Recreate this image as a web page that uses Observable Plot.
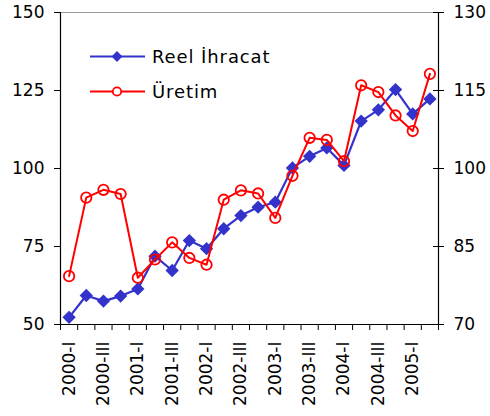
<!DOCTYPE html>
<html>
<head>
<meta charset="utf-8">
<script src="https://cdn.jsdelivr.net/npm/d3@7"></script>
<script src="https://cdn.jsdelivr.net/npm/@observablehq/plot@0.6"></script>
<style>
  body { margin: 0; background: #fff; }
  #chart { width: 490px; height: 416px; }
</style>
</head>
<body>
<div id="chart"></div>
<script>
// Quarterly periods, 2000-I .. 2005-II
const quarters = [
  "2000-I", "2000-II", "2000-III", "2000-IV",
  "2001-I", "2001-II", "2001-III", "2001-IV",
  "2002-I", "2002-II", "2002-III", "2002-IV",
  "2003-I", "2003-II", "2003-III", "2003-IV",
  "2004-I", "2004-II", "2004-III", "2004-IV",
  "2005-I", "2005-II"
];

// Real exports index (left axis)
const reelIhracat = [
  52.3, 59.3, 57.5, 59.1, 61.4, 71.9, 67.3, 76.9, 74.3, 80.7, 84.9,
  87.6, 89.2, 100.2, 103.9, 106.6, 101.0, 115.2, 118.8, 125.3, 117.5, 122.3
];

// Production index (right axis)
const uretim = [
  79.3, 94.4, 95.9, 95.1, 79.0, 82.5, 85.8, 82.8, 81.5, 94.0, 95.8,
  95.2, 90.5, 98.6, 105.9, 105.5, 101.4, 116.0, 114.7, 110.2, 107.2, 118.2
];

const leftTicks = [50, 75, 100, 125, 150];
const rightTicks = [70, 85, 100, 115, 130];
const seriesNames = ["Reel İhracat", "Üretim"];

const blue = "#3333cc";
const red = "#ff0000";
const font = "'DejaVu Sans', sans-serif";

// right axis [70,130] is drawn on the left axis scale [50,150]
const toLeft = v => 50 + (v - 70) * 100 / 60;
const toRight = v => 70 + (v - 50) * 60 / 100;

const idx = d3.range(quarters.length);
const exportRows = idx.map(i => ({i, v: reelIhracat[i]}));
const prodRows = idx.map(i => ({i, v: toLeft(uretim[i])}));
const labelIdx = idx.filter(i => i % 2 === 0);
const bounds = d3.range(quarters.length + 1).map(k => k - 0.5);

const plot = Plot.plot({
  width: 490,
  height: 416,
  marginLeft: 60,
  marginRight: 52,
  marginTop: 12,
  marginBottom: 92,
  style: {fontFamily: font, fontSize: "17px", color: "#000", background: "#fff"},
  x: {domain: [-0.5, quarters.length - 0.5], axis: null, label: null},
  y: {domain: [50, 150], axis: null, label: null},
  marks: [
    // frame
    Plot.ruleY([150], {stroke: "#9a9a9a", strokeWidth: 1.2}),
    Plot.ruleY([50], {stroke: "#000", strokeWidth: 1.2}),
    Plot.ruleX([-0.5], {stroke: "#000", strokeWidth: 1.2}),
    Plot.ruleX([quarters.length - 0.5], {stroke: "#000", strokeWidth: 1.2}),
    // left axis
    Plot.axisY({anchor: "left", label: null, ticks: leftTicks, tickSize: 6, tickPadding: 10, tickFormat: d => d}),
    // right axis (ticks cross the axis line)
    Plot.axisY({anchor: "right", label: null, ticks: rightTicks.map(toLeft), tickSize: 5, tickPadding: 10, tickFormat: d => Math.round(toRight(d))}),
    Plot.axisY({anchor: "right", label: null, ticks: rightTicks.map(toLeft), tickSize: 6, dx: -6, tickFormat: () => ""}),
    // category boundary ticks
    Plot.axisX({label: null, ticks: bounds, tickSize: 6, tickFormat: () => ""}),
    // rotated period labels
    Plot.text(labelIdx, {
      x: d => d, text: d => quarters[d], frameAnchor: "bottom",
      rotate: -90, textAnchor: "end", lineAnchor: "middle", dy: 17, fontSize: 17
    }),
    // series
    Plot.line(exportRows, {x: "i", y: "v", stroke: blue, strokeWidth: 2.2}),
    Plot.dot(exportRows, {x: "i", y: "v", symbol: "diamond2", r: 6, fill: blue, stroke: "none"}),
    Plot.line(prodRows, {x: "i", y: "v", stroke: red, strokeWidth: 2}),
    Plot.dot(prodRows, {x: "i", y: "v", r: 5.2, fill: "none", stroke: red, strokeWidth: 1.8})
  ]
});

document.getElementById("chart").appendChild(plot);

// legend inside the plot area
const svg = d3.select(plot);
const lg = svg.append("g")
  .attr("font-family", font)
  .attr("font-size", 18)
  .attr("text-anchor", "start")
  .attr("letter-spacing", "0.9px");

const rows = [
  {name: seriesNames[0], color: blue, y: 56.5, shape: "diamond"},
  {name: seriesNames[1], color: red, y: 91.5, shape: "circle"}
];
rows.forEach(r => {
  lg.append("line").attr("x1", 90).attr("x2", 145).attr("y1", r.y).attr("y2", r.y)
    .attr("stroke", r.color).attr("stroke-width", 2);
  if (r.shape === "diamond") {
    lg.append("path").attr("transform", `translate(117,${r.y})`)
      .attr("d", d3.symbol(d3.symbolDiamond2, 75)()).attr("fill", r.color);
  } else {
    lg.append("circle").attr("cx", 117).attr("cy", r.y).attr("r", 4.2)
      .attr("fill", "#fff").attr("stroke", r.color).attr("stroke-width", 1.8);
  }
  lg.append("text").attr("x", 152).attr("y", r.y).attr("dy", "0.36em")
    .attr("text-anchor", "start").attr("fill", "#000").text(r.name);
});
</script>
</body>
</html>
